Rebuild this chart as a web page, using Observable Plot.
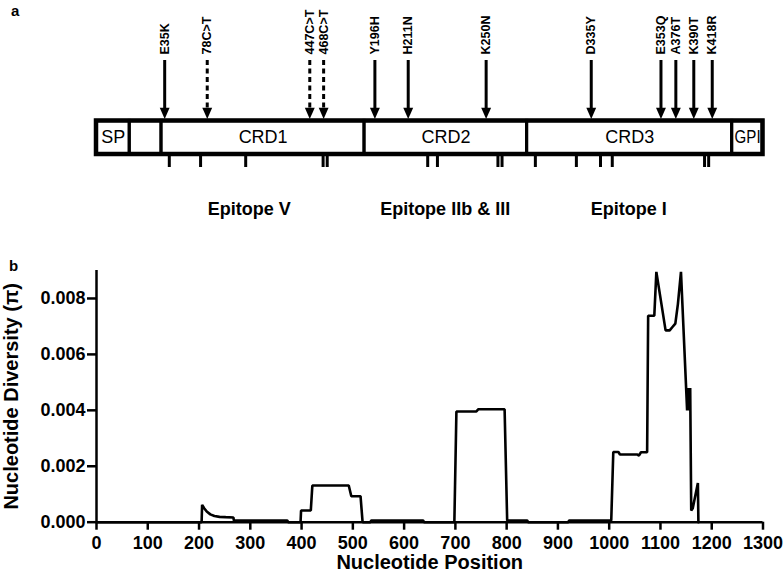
<!DOCTYPE html>
<html><head><meta charset="utf-8">
<script src="https://cdn.jsdelivr.net/npm/d3@7"></script>
<script src="https://cdn.jsdelivr.net/npm/@observablehq/plot@0.6"></script>
<style>
body{margin:0;background:#fff;font-family:"Liberation Sans",Arial,sans-serif;}
#wrap{position:relative;width:784px;height:578px;overflow:hidden;}
#wrap svg{display:block;}
.pl{position:absolute;font-weight:bold;font-size:15px;line-height:1;color:#000;}
</style></head><body><div id="wrap"></div>
<script>
// ---- Panel a: gene structure (positions on the nucleotide axis, 0–1300) ----
const domainNames = ["SP", "", "CRD1", "CRD2", "CRD3", "GPI"];
const domainStart = [0, 65, 127, 523, 840, 1240];
const domainEnd   = [65, 127, 523, 840, 1240, 1300];

const mutationLabels = ["E35K", "78C>T", "447C>T", "468C>T", "Y196H", "H211N", "K250N", "D335Y", "E353Q", "A376T", "K390T", "K418R"];
const mutationPos    = [133, 216, 416, 443, 543, 608, 760, 965, 1101, 1130, 1165, 1201];
const mutationSilent = [false, true, true, true, false, false, false, false, false, false, false, false];

const siteMarks = [142, 203, 291, 442, 450, 646, 665, 783, 791, 856, 936, 983, 1006, 1186, 1194];

const epitopeNames = ["Epitope V", "Epitope IIb & III", "Epitope I"];
const epitopePos   = [298, 680, 1038];

// ---- Panel b: sliding-window nucleotide diversity ----
const ntPosition = [0, 205, 206, 210, 215, 222, 230, 240, 252, 267, 268, 372, 374, 398, 399, 418, 421, 492, 497, 515, 519,
  534, 536, 637, 639, 698, 702, 741, 745, 796, 801, 840, 842, 920, 922, 1004, 1008, 1018, 1021, 1055, 1058, 1062, 1074,
  1076, 1088, 1092, 1110, 1118, 1123, 1129, 1134, 1140, 1152, 1154, 1156, 1158, 1160, 1163, 1173, 1174];
const piValues = [0, 0, 0.00062, 0.0005, 0.00038, 0.00028, 0.00022, 0.00019, 0.00018, 0.00017, 0.00006, 0.00006, 0, 0, 0.00042, 0.00042, 0.00131, 0.00131, 0.00093, 0.00093, 0,
  0, 0.00006, 0.00006, 0, 0, 0.00396, 0.00396, 0.00404, 0.00404, 0.00006, 0.00006, 0, 0, 0.00006, 0.00006, 0.00251, 0.00251, 0.00242, 0.00242, 0.00238, 0.0025, 0.0025,
  0.00738, 0.00738, 0.00895, 0.00686, 0.00686, 0.00697, 0.0071, 0.0078, 0.00895, 0.0040, 0.0048, 0.0040, 0.0048, 0.00042, 0.0005, 0.0014, 0];

const xTicks = d3.range(0, 1301, 100);
const yTicks = [0, 0.002, 0.004, 0.006, 0.008];

// ---- build tables ----
const domains = domainNames.map((name, i) => ({name, x1: domainStart[i], x2: domainEnd[i], mid: (domainStart[i] + domainEnd[i]) / 2}));
const mutations = mutationLabels.map((label, i) => ({label, x: mutationPos[i], silent: mutationSilent[i]}));
const epitopes = epitopeNames.map((name, i) => ({name, x: epitopePos[i]}));
const series = ntPosition.map((x, i) => ({x, y: piValues[i]}));

const FONT = '"Liberation Sans", Arial, Helvetica, sans-serif';
const W = 784, HA = 230, HB = 348;
const xDomain = [xTicks[0], xTicks[xTicks.length - 1]];
const mL = 96, mR = 21.5;

// layout rows (vertical, in panel-a pixels)
const row = {labelEnd: 54, shaftTop: 60, shaftEnd: 110, head: 112.8, boxTop: 120.5, boxBottom: 154, markEnd: 167, domainText: 137, epitope: 209};

const downTriangle = {
  draw(ctx, size) {
    const r = Math.sqrt(size / Math.PI);
    const h = r * 1.3, w = r * 1.15;
    ctx.moveTo(-w, -h); ctx.lineTo(w, -h); ctx.lineTo(0, h); ctx.closePath();
  }
};

const panelA = Plot.plot({
  width: W, height: HA,
  marginLeft: mL, marginRight: mR, marginTop: 0, marginBottom: 0,
  x: {domain: xDomain, axis: null},
  y: {domain: [0, HA], range: [0, HA], axis: null},
  style: {fontFamily: FONT, background: "white", color: "black"},
  marks: [
    // arrows
    Plot.ruleX(mutations.filter(d => !d.silent), {x: "x", y1: row.shaftTop, y2: row.shaftEnd, stroke: "black", strokeWidth: 3}),
    Plot.ruleX(mutations.filter(d => d.silent), {x: "x", y1: row.shaftTop, y2: row.shaftEnd, stroke: "black", strokeWidth: 3, strokeDasharray: "5,3.5"}),
    Plot.dot(mutations, {x: "x", y: row.head, r: 4.3, symbol: downTriangle, fill: "black", stroke: "none"}),
    Plot.text(mutations, {x: "x", y: row.labelEnd, text: "label", rotate: -90, textAnchor: "start", lineAnchor: "middle", fontSize: 12.5, fontWeight: "bold", fill: "black"}),
    // gene box
    Plot.rect(domains, {x1: "x1", x2: "x2", y1: row.boxTop, y2: row.boxBottom, fill: "white", stroke: "black", strokeWidth: 3.2}),
    Plot.rect([domains[0]], {x1: domainStart[0], x2: domainEnd[domainEnd.length - 1], y1: row.boxTop, y2: row.boxBottom, fill: "none", stroke: "black", strokeWidth: 4.5}),
    Plot.text(domains, {x: "mid", y: row.domainText, text: "name", fontSize: 18, fill: "black"}),
    // site marks below
    Plot.ruleX(siteMarks, {y1: row.boxBottom + 2, y2: row.markEnd, stroke: "black", strokeWidth: 3}),
    // epitopes
    Plot.text(epitopes, {x: "x", y: row.epitope, text: "name", fontSize: 18, fontWeight: "bold", fill: "black"})
  ]
});

// condense the narrow "GPI" label so it fits its small box, as in the original
panelA.querySelectorAll("text").forEach(t => {
  if (t.textContent === "GPI") { t.setAttribute("textLength", "26"); t.setAttribute("lengthAdjust", "spacingAndGlyphs"); }
});

const panelB = Plot.plot({
  width: W, height: HB,
  marginLeft: mL, marginRight: mR, marginTop: 40, marginBottom: 56.3,
  x: {domain: xDomain},
  y: {domain: [0, 0.009]},
  style: {fontFamily: FONT, fontSize: "18px", fontWeight: "bold", background: "white", color: "black", overflow: "visible"},
  marks: [
    Plot.axisX({ticks: xTicks, tickFormat: d3.format("d"), tickSize: 8, tickPadding: 6, strokeWidth: 2.5, label: null, fontSize: 18, fontWeight: "bold"}),
    Plot.axisY({ticks: yTicks, tickFormat: d3.format(".3f"), tickSize: 9, tickPadding: 2, strokeWidth: 2.5, label: null, fontSize: 18, fontWeight: "bold"}),
    Plot.ruleX([xDomain[0]], {stroke: "black", strokeWidth: 2.5}),
    Plot.ruleY([0], {stroke: "black", strokeWidth: 2.5}),
    Plot.line(series, {x: "x", y: "y", stroke: "black", strokeWidth: 2.6, strokeLinejoin: "miter"}),
    Plot.text(["Nucleotide Position"], {frameAnchor: "bottom", textAnchor: "middle", dy: 47, lineAnchor: "bottom", fontSize: 20, fontWeight: "bold", fill: "black"}),
    Plot.text(["Nucleotide Diversity (\u03C0)"], {frameAnchor: "left", textAnchor: "middle", dx: -85, rotate: -90, fontSize: 20, fontWeight: "bold", fill: "black"})
  ]
});

const wrap = document.getElementById("wrap");
wrap.appendChild(panelA);
wrap.appendChild(panelB);
const la = document.createElement("div"); la.className = "pl"; la.textContent = "a"; la.style.left = "11px"; la.style.top = "3px"; wrap.appendChild(la);
const lb = document.createElement("div"); lb.className = "pl"; lb.textContent = "b"; lb.style.left = "9px"; lb.style.top = "258px"; wrap.appendChild(lb);
</script></body></html>
